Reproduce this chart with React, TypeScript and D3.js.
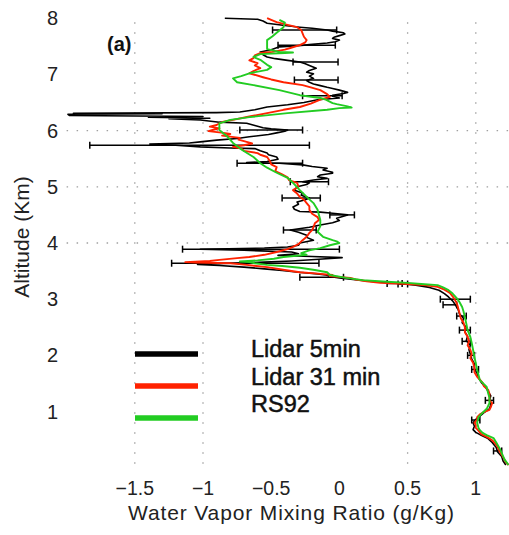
import React from "react";
import * as d3 from "d3";

// ---- data: [altitude km, mixing ratio g/kg] ----
const lidar5Profile: [number, number][] = [
  [0.05,1.22],[0.12,1.20],[0.2,1.19],[0.28,1.16],[0.36,1.15],[0.45,1.12],[0.52,1.09],[0.58,1.04],[0.63,1.00],[0.68,0.98],[0.74,0.99],[0.8,0.98],[0.86,1.00],[0.92,1.03],[0.98,1.06],[1.05,1.10],[1.12,1.11],[1.2,1.10],[1.28,1.11],[1.36,1.09],[1.44,1.07],[1.52,1.04],[1.6,1.02],[1.68,1.01],[1.76,0.99],[1.85,0.99],[1.94,0.97],[2.02,0.96],[2.1,0.95],[2.18,0.96],[2.26,0.93],[2.34,0.94],[2.42,0.92],[2.5,0.93],[2.58,0.90],[2.66,0.91],[2.74,0.88],[2.82,0.87],[2.9,0.85],[2.97,0.83],[3.04,0.80],[3.1,0.77],[3.16,0.73],[3.21,0.66],[3.25,0.56],[3.28,0.44],[3.30,0.34],[3.32,0.22],[3.35,0.10],[3.38,0.00],[3.40,-0.06],[3.43,-0.10],
  [3.45,-0.16],[3.48,-0.30],[3.51,-0.42],[3.54,-0.55],[3.57,-0.70],[3.60,-0.88],[3.62,-1.04],[3.64,-0.80],[3.66,-0.55],[3.68,-0.35],[3.71,-0.15],[3.74,0.02],[3.76,-0.20],[3.78,-0.45],[3.81,-0.30],[3.84,-0.35],[3.87,-0.70],[3.89,-1.02],[3.91,-0.55],[3.93,-0.38],[3.96,-0.30],[4.00,-0.29],[4.05,-0.19],[4.10,-0.24],[4.14,-0.24],[4.19,-0.30],[4.23,-0.36],[4.28,-0.22],[4.32,-0.14],[4.36,-0.05],[4.40,0.00],[4.44,-0.02],[4.50,0.06],[4.53,-0.05],[4.55,-0.14],[4.56,-0.29],[4.60,-0.33],[4.64,-0.34],[4.69,-0.30],[4.73,-0.31],[4.77,-0.25],[4.80,-0.22],[4.85,-0.28],[4.89,-0.27],[4.94,-0.33],[5.00,-0.31],[5.04,-0.24],[5.07,-0.22],[5.09,-0.27],[5.12,-0.19],[5.15,-0.09],[5.18,-0.16],[5.21,-0.14],[5.24,-0.05],[5.26,-0.05],[5.30,-0.12],[5.33,-0.09],[5.36,-0.20],[5.39,-0.27],[5.42,-0.44],[5.43,-0.68],[5.45,-0.53],[5.49,-0.45],[5.53,-0.46],[5.57,-0.52],[5.60,-0.53],[5.64,-0.58],[5.68,-0.62],[5.69,-0.80],[5.71,-1.02],[5.74,-1.20],[5.76,-1.39],[5.78,-1.10],[5.80,-1.02],[5.83,-0.90],[5.86,-0.75],[5.89,-0.66],[5.93,-0.52],[5.96,-0.46],[5.99,-0.40],[6.01,-0.38],[6.03,-0.50],[6.05,-0.56],[6.09,-0.62],[6.13,-0.68],[6.15,-0.88],[6.19,-1.02],[6.21,-1.25],[6.22,-0.95],[6.24,-1.40],[6.25,-1.00],[6.27,-1.98],[6.29,-1.99],[6.30,-1.30],[6.31,-1.95],[6.32,-0.90],[6.33,-0.73],[6.37,-0.62],[6.42,-0.53],[6.46,-0.38],[6.50,-0.26],[6.55,-0.16],[6.58,0.00],[6.61,-0.05],[6.63,-0.05],[6.66,0.03],[6.68,0.06],[6.72,0.00],[6.75,-0.05],[6.77,-0.09],[6.80,-0.14],[6.83,-0.19],[6.86,-0.22],[6.89,-0.24],[6.93,-0.19],[6.97,-0.22],[7.01,-0.19],[7.04,-0.24],[7.07,-0.22],[7.11,-0.17],[7.16,-0.22],[7.19,-0.25],[7.22,-0.29],[7.25,-0.38],[7.28,-0.47],[7.31,-0.53],[7.35,-0.56],[7.40,-0.58],[7.44,-0.50],[7.49,-0.44],[7.51,-0.30],[7.53,-0.22],[7.56,-0.09],[7.58,-0.03],[7.61,0.00],[7.64,-0.05],[7.66,-0.04],[7.69,0.00],[7.72,0.04],[7.74,0.03],[7.77,-0.05],[7.79,-0.09],[7.82,-0.20],[7.84,-0.29],[7.87,-0.40],[7.91,-0.53],[7.95,-0.56],[7.98,-0.60],[8.00,-0.84]
];

const lidar31Profile: [number, number][] = [
  [0.05,1.24],[0.1,1.22],[0.19,1.20],[0.27,1.18],[0.37,1.16],[0.44,1.14],[0.49,1.12],[0.55,1.08],[0.6,1.04],[0.66,1.02],[0.71,1.00],[0.76,1.00],[0.8,0.99],[0.86,1.01],[0.9,1.01],[0.95,1.03],[0.98,1.05],[1.03,1.10],[1.08,1.11],[1.15,1.12],[1.2,1.10],[1.26,1.10],[1.32,1.10],[1.39,1.09],[1.45,1.06],[1.51,1.05],[1.57,1.03],[1.62,1.01],[1.7,0.99],[1.78,0.99],[1.87,0.98],[1.95,0.96],[2.03,0.97],[2.1,0.96],[2.18,0.94],[2.25,0.95],[2.33,0.94],[2.41,0.92],[2.5,0.92],[2.58,0.91],[2.66,0.89],[2.76,0.88],[2.85,0.87],[2.93,0.86],[3.02,0.84],[3.11,0.81],[3.17,0.77],[3.22,0.72],[3.25,0.62],[3.27,0.50],[3.29,0.30],[3.32,0.20],[3.35,0.12],[3.38,0.08],[3.41,-0.07],[3.43,-0.05],[3.46,-0.18],[3.48,-0.29],[3.52,-0.40],[3.57,-0.53],[3.61,-0.68],[3.64,-0.80],[3.65,-1.05],[3.66,-1.13],[3.68,-0.95],[3.70,-0.88],[3.73,-0.75],[3.75,-0.66],[3.79,-0.55],[3.84,-0.46],[3.89,-0.38],[3.93,-0.34],[3.98,-0.30],[4.05,-0.27],[4.11,-0.24],[4.18,-0.22],[4.23,-0.20],[4.28,-0.19],[4.35,-0.18],[4.41,-0.15],[4.46,-0.16],[4.52,-0.20],[4.59,-0.22],[4.65,-0.22],[4.71,-0.24],[4.77,-0.26],[4.82,-0.29],[4.88,-0.31],[4.94,-0.34],[5.00,-0.30],[5.07,-0.31],[5.12,-0.37],[5.17,-0.38],[5.22,-0.42],[5.28,-0.47],[5.35,-0.46],[5.40,-0.50],[5.46,-0.51],[5.53,-0.53],[5.57,-0.58],[5.60,-0.60],[5.64,-0.70],[5.68,-0.72],[5.71,-0.78],[5.74,-0.70],[5.77,-0.64],[5.80,-0.68],[5.84,-0.74],[5.87,-0.73],[5.91,-0.86],[5.94,-0.80],[5.96,-0.85],[5.99,-0.96],[6.01,-0.93],[6.04,-0.88],[6.07,-0.95],[6.10,-0.90],[6.13,-0.88],[6.16,-0.85],[6.19,-0.78],[6.25,-0.66],[6.31,-0.53],[6.37,-0.41],[6.42,-0.29],[6.48,-0.21],[6.55,-0.14],[6.60,-0.07],[6.65,-0.09],[6.72,-0.14],[6.77,-0.21],[6.81,-0.27],[6.86,-0.41],[6.91,-0.50],[6.95,-0.56],[7.02,-0.66],[7.06,-0.63],[7.11,-0.58],[7.16,-0.62],[7.20,-0.60],[7.25,-0.66],[7.29,-0.63],[7.34,-0.62],[7.38,-0.58],[7.40,-0.49],[7.44,-0.40],[7.47,-0.36],[7.52,-0.29],[7.57,-0.25],[7.61,-0.24],[7.67,-0.26],[7.73,-0.27],[7.79,-0.28],[7.84,-0.31],[7.88,-0.38],[7.93,-0.46],[7.97,-0.50],[8.00,-0.53]
];

const rs92Profile: [number, number][] = [
  [0.05,1.24],[0.15,1.21],[0.32,1.18],[0.45,1.15],[0.53,1.13],[0.58,1.08],[0.62,1.05],[0.67,1.03],[0.71,1.02],[0.80,1.01],[0.90,1.02],[0.98,1.05],[1.05,1.08],[1.15,1.10],[1.25,1.10],[1.33,1.09],[1.44,1.08],[1.56,1.03],[1.65,1.02],[1.74,1.01],[1.86,1.00],[1.97,0.99],[2.1,0.98],[2.22,0.97],[2.33,0.96],[2.45,0.94],[2.57,0.93],[2.68,0.92],[2.78,0.91],[2.86,0.90],[2.95,0.88],[3.02,0.86],[3.10,0.83],[3.16,0.80],[3.21,0.76],[3.25,0.72],[3.27,0.60],[3.29,0.50],[3.31,0.35],[3.34,0.17],[3.38,0.05],[3.43,-0.07],[3.48,-0.09],[3.52,-0.18],[3.56,-0.29],[3.59,-0.42],[3.61,-0.53],[3.64,-0.62],[3.66,-0.66],[3.67,-0.73],[3.69,-0.60],[3.72,-0.48],[3.75,-0.41],[3.79,-0.24],[3.82,-0.28],[3.87,-0.22],[3.91,-0.14],[3.96,-0.07],[4.00,0.00],[4.03,-0.02],[4.05,-0.05],[4.11,-0.12],[4.20,-0.16],[4.30,-0.14],[4.41,-0.14],[4.50,-0.15],[4.59,-0.16],[4.71,-0.19],[4.82,-0.24],[4.94,-0.29],[5.07,-0.34],[5.16,-0.38],[5.25,-0.46],[5.34,-0.53],[5.42,-0.58],[5.53,-0.63],[5.65,-0.71],[5.78,-0.78],[5.89,-0.82],[6.01,-0.88],[6.13,-0.88],[6.19,-0.80],[6.24,-0.66],[6.31,-0.38],[6.37,-0.09],[6.40,0.00],[6.41,0.09],[6.43,0.06],[6.47,-0.02],[6.49,-0.05],[6.55,-0.10],[6.58,-0.14],[6.63,-0.29],[6.72,-0.44],[6.81,-0.63],[6.86,-0.75],[6.93,-0.78],[6.97,-0.72],[7.02,-0.66],[7.08,-0.53],[7.13,-0.50],[7.17,-0.53],[7.26,-0.58],[7.31,-0.63],[7.36,-0.58],[7.38,-0.40],[7.39,-0.34],[7.40,-0.44],[7.45,-0.53],[7.49,-0.53],[7.55,-0.53],[7.61,-0.53],[7.68,-0.49],[7.74,-0.46],[7.84,-0.41],[7.92,-0.40],[7.97,-0.44]
];

// error bars of the 5-min lidar profile: [altitude, low, high]
const lidar5Errors: [number, number, number][] = [
  [7.79,-0.49,-0.02],[7.52,-0.45,-0.03],[7.22,-0.34,-0.01],[6.90,-0.33,-0.01],[6.62,-0.27,0.02],[6.01,-0.73,-0.27],[5.74,-1.83,-0.22],[5.42,-0.75,-0.27],[5.09,-0.36,-0.08],[4.80,-0.42,-0.14],[4.50,-0.07,0.11],[4.23,-0.41,-0.17],[3.89,-1.15,0.00],[3.64,-1.23,-0.15],[3.39,-0.29,0.03],[3.28,0.35,0.46],[3.27,0.43,0.50],[3.0,0.74,0.96],[2.9,0.76,0.86],[2.7,0.86,0.93],[2.45,0.88,0.96],[2.25,0.90,0.96],[2.0,0.94,0.99],[1.75,0.97,1.02],[1.2,1.07,1.13],[0.85,0.97,1.03],[0.3,1.13,1.19]
];

const xTicks = [-1.5, -1, -0.5, 0, 0.5, 1];
const yTicks = [1, 2, 3, 4, 5, 6, 7, 8];
const xGrid = [-1.5, -1, 0.5, 1];
const yGrid = [4, 5, 6];
const seriesNames = ["Lidar 5min", "Lidar 31 min", "RS92"];
const seriesColors = ["#000000", "#ff2200", "#22cc22"];

const W = 509, H = 535;
const x = d3.scaleLinear().domain([-2, 1.25]).range([66.6, 509.9]);
const y = d3.scaleLinear().domain([0, 8]).range([467.8, 18.2]);

const fmt = (v: number) => (v < 0 ? "\u2212" + String(Math.abs(v)) : String(v));

export default function App() {
  const line = d3.line<[number, number]>().x(d => x(d[1])).y(d => y(d[0]));
  const profiles = [lidar5Profile, lidar31Profile, rs92Profile];
  const font = "'Liberation Sans', Arial, sans-serif";
  return (
    <svg width={W} height={H} style={{ position: "absolute", left: 0, top: 0, background: "#fff" }}>
      <rect width={W} height={H} fill="#fff" />
      {xGrid.map(v => (
        <line key={"gx" + v} x1={x(v)} x2={x(v)} y1={y(8) + 4} y2={y(0) - 2}
          stroke="#a0a0a0" strokeWidth={1.3} strokeDasharray="1.5 8.5" />
      ))}
      {yGrid.map(v => (
        <line key={"gy" + v} x1={x(-2)} x2={W} y1={y(v)} y2={y(v)}
          stroke="#a0a0a0" strokeWidth={1.3} strokeDasharray="1.5 8.5" />
      ))}
      {profiles.map((p, i) => (
        <g key={"s" + i}>
          <path d={line(p) || ""} fill="none" stroke={seriesColors[i]} strokeWidth={i === 0 ? 1.6 : 1.9} strokeLinejoin="round" />
          {i === 0 && lidar5Errors.map((e, j) => (
            <g key={"e" + j} stroke="#000" strokeWidth={1.5}>
              <line x1={x(e[1])} x2={x(e[2])} y1={y(e[0])} y2={y(e[0])} />
              <line x1={x(e[1])} x2={x(e[1])} y1={y(e[0]) - 3.5} y2={y(e[0]) + 3.5} />
              <line x1={x(e[2])} x2={x(e[2])} y1={y(e[0]) - 3.5} y2={y(e[0]) + 3.5} />
            </g>
          ))}
        </g>
      ))}
      {xTicks.map(v => (
        <text key={"tx" + v} x={x(v)} y={495} textAnchor="middle" fontFamily={font} fontSize={19.5} fill="#222">{fmt(v)}</text>
      ))}
      {yTicks.map(v => (
        <text key={"ty" + v} x={58} y={y(v) + 7} textAnchor="end" fontFamily={font} fontSize={20} fill="#222">{v}</text>
      ))}
      <text x={291} y={520} textAnchor="middle" fontFamily={font} fontSize={21} textLength={326} lengthAdjust="spacing" fill="#222">Water Vapor Mixing Ratio (g/Kg)</text>
      <text transform="translate(29,237) rotate(-90)" textAnchor="middle" fontFamily={font} fontSize={21} fill="#222">Altitude (Km)</text>
      <text x={107} y={51} fontFamily={font} fontSize={20} fontWeight="bold" fill="#111">(a)</text>
      {seriesNames.map((n, i) => (
        <g key={"lg" + i}>
          <line x1={135} x2={198} y1={354 + i * 32} y2={354 + i * 32} stroke={seriesColors[i]} strokeWidth={5.5} />
          <text x={251} y={357 + i * 27.5} fontFamily={font} fontSize={23.5} fill="#111" stroke="#111" strokeWidth={0.5}>{n}</text>
        </g>
      ))}
    </svg>
  );
}
